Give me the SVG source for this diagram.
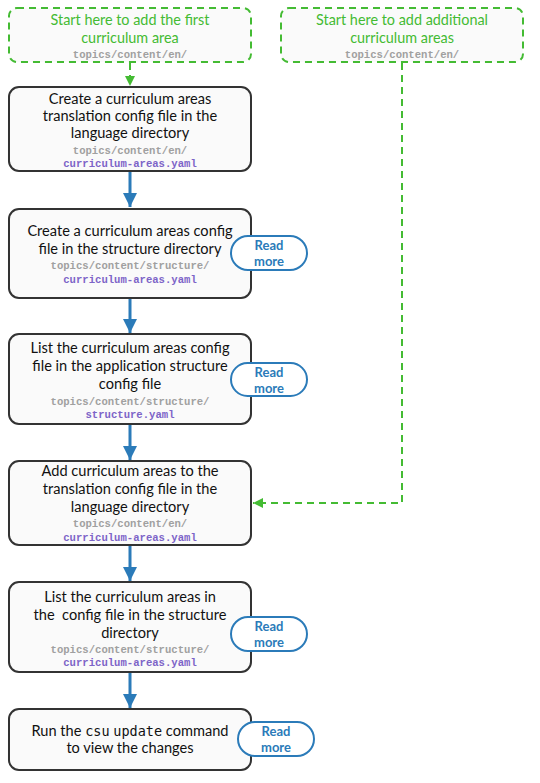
<svg xmlns="http://www.w3.org/2000/svg" width="540" height="783" viewBox="0 0 540 783">
<style>
.box{fill:#fafafa;stroke:#333;stroke-width:2}
.start{fill:#fafafa;stroke:#44bb33;stroke-width:2;stroke-dasharray:7,5}
.t{font-family:Lato,"Liberation Sans",sans-serif;font-size:14.6px;fill:#111;text-anchor:middle}
.g{font-family:Lato,"Liberation Sans",sans-serif;font-size:14.4px;fill:#44bb33;text-anchor:middle}
.p{font-family:"Liberation Mono","DejaVu Sans Mono",monospace;font-size:10.6px;font-weight:bold;fill:#a0a0a0;text-anchor:middle}
.f{font-family:"Liberation Mono","DejaVu Sans Mono",monospace;font-size:10.6px;font-weight:bold;fill:#7d64c8;text-anchor:middle}
.c{font-family:"DejaVu Sans Mono","Liberation Mono",monospace;font-size:13.5px}
.pill{fill:#fff;stroke:#2b7bb9;stroke-width:2}
.rm{font-family:Lato,"Liberation Sans",sans-serif;font-size:13px;font-weight:bold;fill:#2b7bb9;text-anchor:middle}
.blue{stroke:#2b7bb9;stroke-width:3;fill:none}
.gl{stroke:#44bb33;stroke-width:2;fill:none;stroke-dasharray:7,5}
</style>
<defs>
<marker id="ab" markerUnits="userSpaceOnUse" markerWidth="16" markerHeight="14" refX="14" refY="7" orient="auto"><path d="M0,0 L14,7 L0,14 z" fill="#2b7bb9"/></marker>
<marker id="ag" markerUnits="userSpaceOnUse" markerWidth="12" markerHeight="10" refX="10" refY="5" orient="auto"><path d="M0,0 L10,5 L0,10 z" fill="#44bb33"/></marker>
</defs>
<g id="connectors">
<path class="gl" d="M130,63 V86" marker-end="url(#ag)"/>
<path class="gl" d="M402,63 V503 H253" marker-end="url(#ag)"/>
<path class="blue" d="M130,172 V207" marker-end="url(#ab)"/>
<path class="blue" d="M130,299 V333" marker-end="url(#ab)"/>
<path class="blue" d="M130,425 V460" marker-end="url(#ab)"/>
<path class="blue" d="M130,546 V581" marker-end="url(#ab)"/>
<path class="blue" d="M130,673 V708" marker-end="url(#ab)"/>
</g>
<g id="start-first">
<rect class="start" x="9" y="8" width="242" height="54" rx="8"/>
<text class="g" x="130" y="25">Start here to add the first</text>
<text class="g" x="130" y="43">curriculum area</text>
<text class="p" x="130" y="58">topics/content/en/</text>
</g>
<g id="start-additional">
<rect class="start" x="281" y="8" width="242" height="54" rx="8"/>
<text class="g" x="402" y="25">Start here to add additional</text>
<text class="g" x="402" y="43">curriculum areas</text>
<text class="p" x="402" y="58">topics/content/en/</text>
</g>
<g id="step1">
<rect class="box" x="9" y="87" width="242" height="84" rx="10"/>
<text class="t" x="130" y="104">Create a curriculum areas</text>
<text class="t" x="130" y="121">translation config file in the</text>
<text class="t" x="130" y="138">language directory</text>
<text class="p" x="130" y="154">topics/content/en/</text>
<text class="f" x="130" y="167">curriculum-areas.yaml</text>
</g>
<g id="step2">
<rect class="box" x="9" y="209" width="242" height="89" rx="10"/>
<text class="t" x="130" y="236">Create a curriculum areas config</text>
<text class="t" x="130" y="254">file in the structure directory</text>
<text class="p" x="130" y="269">topics/content/structure/</text>
<text class="f" x="130" y="283">curriculum-areas.yaml</text>
</g>
<g id="readmore2">
<rect class="pill" x="231" y="236" width="76" height="34" rx="17"/>
<text class="rm" x="269" y="250">Read</text>
<text class="rm" x="269" y="266">more</text>
</g>
<g id="step3">
<rect class="box" x="9" y="334" width="242" height="90" rx="10"/>
<text class="t" x="130" y="353">List the curriculum areas config</text>
<text class="t" x="130" y="371">file in the application structure</text>
<text class="t" x="130" y="389">config file</text>
<text class="p" x="130" y="405">topics/content/structure/</text>
<text class="f" x="130" y="418">structure.yaml</text>
</g>
<g id="readmore3">
<rect class="pill" x="231" y="363" width="76" height="33" rx="16.5"/>
<text class="rm" x="269" y="377">Read</text>
<text class="rm" x="269" y="393">more</text>
</g>
<g id="step4">
<rect class="box" x="9" y="461" width="242" height="84" rx="10"/>
<text class="t" x="130" y="476">Add curriculum areas to the</text>
<text class="t" x="130" y="494">translation config file in the</text>
<text class="t" x="130" y="512">language directory</text>
<text class="p" x="130" y="527">topics/content/en/</text>
<text class="f" x="130" y="541">curriculum-areas.yaml</text>
</g>
<g id="step5">
<rect class="box" x="9" y="582" width="242" height="90" rx="10"/>
<text class="t" x="130" y="602">List the curriculum areas in</text>
<text class="t" x="130" y="620" xml:space="preserve">the  config file in the structure</text>
<text class="t" x="130" y="638">directory</text>
<text class="p" x="130" y="653">topics/content/structure/</text>
<text class="f" x="130" y="666">curriculum-areas.yaml</text>
</g>
<g id="readmore5">
<rect class="pill" x="231" y="617" width="76" height="34" rx="17"/>
<text class="rm" x="269" y="631">Read</text>
<text class="rm" x="269" y="647">more</text>
</g>
<g id="step6">
<rect class="box" x="9" y="709" width="242" height="61" rx="10"/>
<text class="t" x="130" y="736">Run the <tspan class="c">csu</tspan> <tspan class="c">update</tspan> command</text>
<text class="t" x="130" y="753">to view the changes</text>
</g>
<g id="readmore6">
<rect class="pill" x="238" y="722" width="76" height="34" rx="17"/>
<text class="rm" x="276" y="736">Read</text>
<text class="rm" x="276" y="752">more</text>
</g>
</svg>
